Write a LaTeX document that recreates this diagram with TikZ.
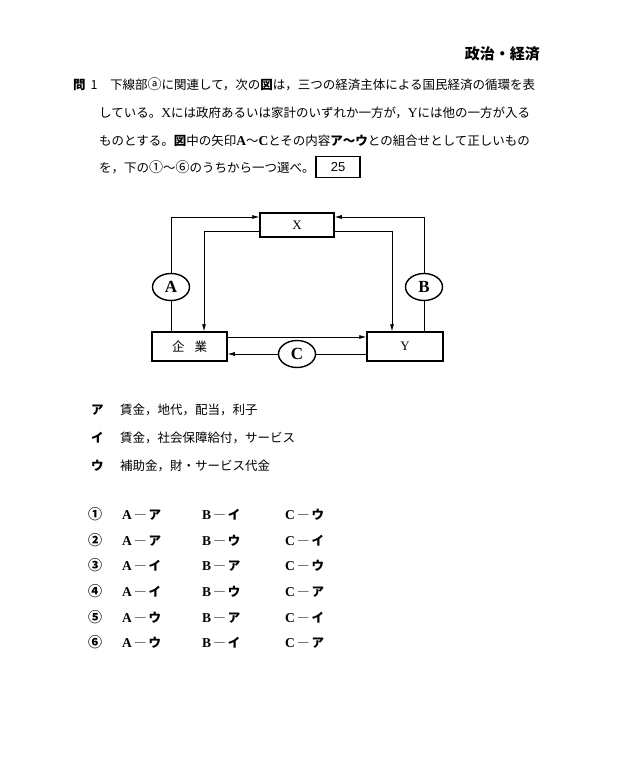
\documentclass[tikz,border=0pt]{standalone}
\usepackage{fontspec}
\setmainfont{Liberation Serif}
\setsansfont{Liberation Sans}
\newfontfamily\jp{Noto Sans CJK JP}
\usetikzlibrary{arrows.meta,shapes.geometric,positioning}
\newcommand\lt[1]{{\rmfamily\fontsize{13.5}{13.5}\selectfont #1}}
\newcommand\ltb[1]{{\rmfamily\bfseries\fontsize{13.5}{13.5}\selectfont #1}}
\newcommand\cn[1]{{\fontsize{14}{14}\selectfont #1}}

\begin{document}
\begin{tikzpicture}[x=1pt,y=-1pt,
    box/.style={draw,line width=1.5pt,inner sep=0pt,font=\fontsize{13}{13}\selectfont},
    flow/.style={line width=0.7pt,-{Latex[length=7pt,width=4pt]}},
    tag/.style={draw,ellipse,line width=1.4pt,fill=white,minimum width=37pt,minimum height=27pt,inner sep=0pt,font=\rmfamily\bfseries\fontsize{17}{17}\selectfont},
    txt/.style={anchor=west,inner sep=0pt,text height=10.5pt,text depth=1pt,font=\jp\fontsize{12.5}{12.5}\selectfont}]
    \fill[white] (0,0) rectangle (620,784);
    \useasboundingbox (0,0) rectangle (620,784);
    \node[txt,anchor=east,font=\jp\bfseries\fontsize{15}{15}\selectfont] (title) at (540,55) {政治・経済};
    \node[txt] (q) at (73,85) {\textbf{問}\hspace{5pt}1};
    \node[txt] (l1) at (110,85) {下線部\cn{ⓐ}に関連して，次の\textbf{図}は，三つの経済主体による国民経済の循環を表};
    \node[txt] (l2) at (99,113) {している。\lt{X}には政府あるいは家計のいずれか一方が，\lt{Y}には他の一方が入る};
    \node[txt] (l3) at (99,141) {ものとする。\textbf{図}中の矢印\ltb{A}～\ltb{C}とその内容\textbf{ア～ウ}との組合せとして正しいもの};
    \node[txt] (l4) at (99,168) {を，下の\cn{①}～\cn{⑥}のうちから一つ選べ。};
    \node[draw,line width=1.2pt,minimum width=44pt,minimum height=21pt,inner sep=0pt,font=\sffamily\fontsize{13}{13}\selectfont] (ans) at (338,167) {25};
    % circuit
    \node[box,minimum width=74pt,minimum height=24pt] (X) at (297,225) {X};
    \node[box,minimum width=75pt,minimum height=29pt,font=\jp\fontsize{12.5}{12.5}\selectfont] (kigyo) at (189.5,346.5) {企\hspace{10pt}業};
    \node[box,minimum width=76pt,minimum height=29pt] (Y) at (405,346.5) {Y};
    \node[tag] (A) at (171,287) {A};
    \node[tag] (B) at (424,287) {B};
    \node[tag] (C) at (297,354) {C};
    \draw[line width=0.7pt] (kigyo.north -| A) -- (A);
    \draw[flow] (A) |- ([yshift=8pt]X.west);
    \draw[flow] ([yshift=-6pt]X.west) -| ([xshift=14.5pt]kigyo.north);
    \draw[line width=0.7pt] (Y.north -| B) -- (B);
    \draw[flow] (B) |- ([yshift=8pt]X.east);
    \draw[flow] ([yshift=-6pt]X.east) -| ([xshift=-13pt]Y.north);
    \draw[flow] ([yshift=9.5pt]kigyo.east) -- ([yshift=9.5pt]Y.west);
    \draw[line width=0.7pt] ([yshift=-7.5pt]Y.west) -- (C);
    \draw[flow] (C) -- ([yshift=-7.5pt]kigyo.east);
    % contents
    \node[txt,font=\jp\bfseries\fontsize{12.5}{12.5}\selectfont] (ka) at (91,410) {ア};
    \node[txt] (ta) at (120,410) {賃金，地代，配当，利子};
    \node[txt,font=\jp\bfseries\fontsize{12.5}{12.5}\selectfont] (ki) at (91,438) {イ};
    \node[txt] (ti) at (120,438) {賃金，社会保障給付，サービス};
    \node[txt,font=\jp\bfseries\fontsize{12.5}{12.5}\selectfont] (ku) at (91,466) {ウ};
    \node[txt] (tu) at (120,466) {補助金，財・サービス代金};
    % choices
    \foreach \n/\a/\b/\c [count=\i from 0] in {①/ア/イ/ウ,②/ア/ウ/イ,③/イ/ア/ウ,④/イ/ウ/ア,⑤/ウ/ア/イ,⑥/ウ/イ/ア}{
        \pgfmathsetmacro\yy{515+25.6*\i}
        \node[txt] (num\i) at (88,\yy) {\cn{\textbf{\n}}};
        \node[txt] (a\i) at (122,\yy) {\ltb{A}\,―\,\textbf{\a}};
        \node[txt] (b\i) at (202,\yy) {\ltb{B}\,―\,\textbf{\b}};
        \node[txt] (c\i) at (285,\yy) {\ltb{C}\,―\,\textbf{\c}};
    }
\end{tikzpicture}
\end{document}
